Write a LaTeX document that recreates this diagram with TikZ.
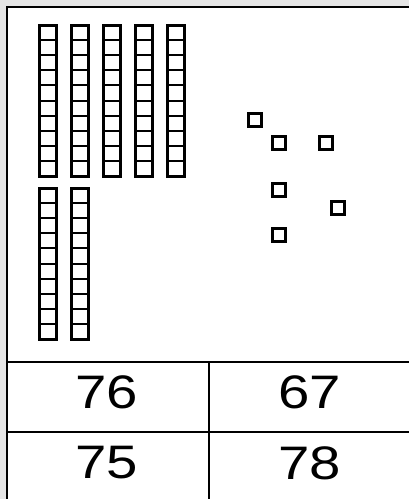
\documentclass[tikz,border=0pt]{standalone}
\usepackage{fontspec}
\setmainfont{Liberation Sans}
\begin{document}
\begin{tikzpicture}[x=1pt,y=-1pt,
  rodline/.style={line width=3pt,draw=black},
  cellline/.style={line width=2pt,draw=black},
  unitbox/.style={draw=black,line width=3pt,fill=white,minimum size=13pt,inner sep=0pt},
  numtext/.style={font=\fontsize{47}{47}\selectfont,inner sep=0pt,anchor=center,xscale=1.2},
  frameline/.style={line width=2pt,draw=black}]
\useasboundingbox (0,0) rectangle (409,499);
\fill[gray!20] (0,0) rectangle (409,499);
\fill[white] (7,7) rectangle (409,499);
\draw[frameline] (409,7) -- (7,7) -- (7,499);
% rods
\foreach \x in {39,71,103,135,167}{
  \foreach \k in {1,...,9}{\draw[cellline] (\x,25+15.1*\k) -- (\x+17,25+15.1*\k);}
  \draw[rodline] (\x,25) rectangle (\x+17,176);
}
\foreach \x in {39,71}{
  \foreach \k in {1,...,9}{\draw[cellline] (\x,188+15.1*\k) -- (\x+17,188+15.1*\k);}
  \draw[rodline] (\x,188) rectangle (\x+17,339);
}
% units
\node[unitbox] (u1) at (255,119.5) {};
\node[unitbox] (u2) at (279,142.5) {};
\node[unitbox] (u3) at (325.5,142.5) {};
\node[unitbox] (u4) at (279,189.5) {};
\node[unitbox] (u5) at (337.5,208) {};
\node[unitbox] (u6) at (279,234.5) {};
% table
\draw[frameline] (7,362) -- (409,362);
\draw[frameline] (7,432) -- (409,432);
\draw[frameline] (209,362) -- (209,499);
\node[numtext] (a) at (107,392) {76};
\node[numtext] (b) at (309.5,392) {67};
\node[numtext] (c) at (107,463) {75};
\node[numtext] (d) at (310,463) {78};
\end{tikzpicture}
\end{document}
